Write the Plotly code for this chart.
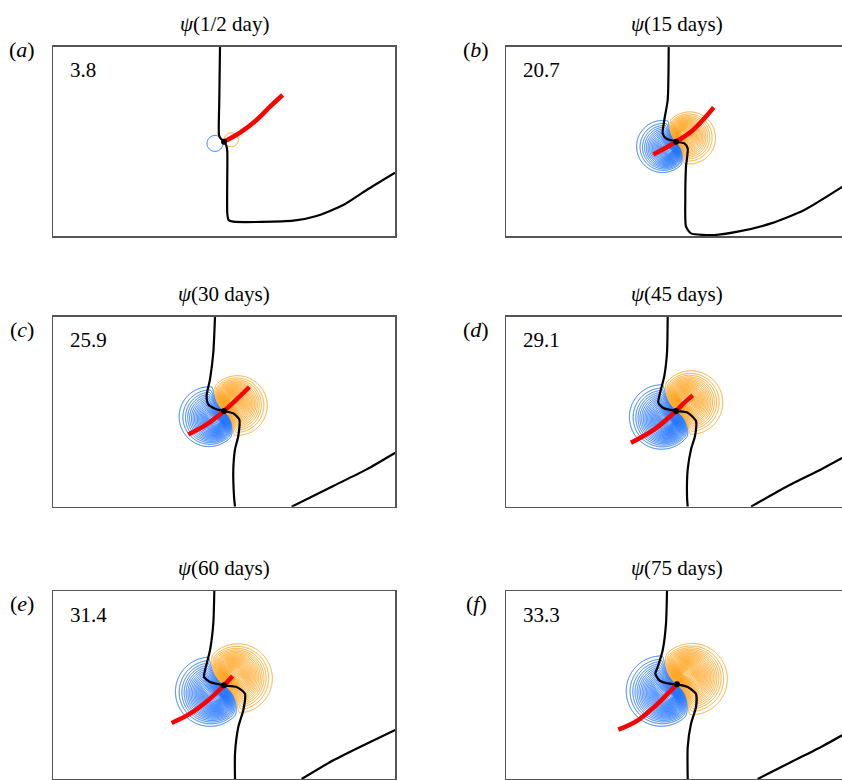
import numpy as np
import plotly.graph_objects as go

# ---------------- data ----------------
panel_letters = ["a", "b", "c", "d", "e", "f"]
title_times = ["1/2 day", "15 days", "30 days", "45 days", "60 days", "75 days"]
corner_values = ["3.8", "20.7", "25.9", "29.1", "31.4", "33.3"]

# vortex centre per panel (box pixels, y downward)
center_x = [170.7, 170.0, 170.7, 170.0, 170.7, 171.0]
center_y = [95.0, 95.0, 94.3, 94.3, 94.3, 93.3]

# each psi lobe: outer ring centre, inner (peak) point, outer radius (relative to centre)
orange_outer = [(7.3, -2.0), (14.5, -3.3), (14.3, -5.0), (16.0, -8.3), (14.6, -6.6), (15.7, -4.8)]
orange_peak = [(7.3, -2.0), (4.5, -8.0), (5.0, -9.5), (5.0, -10.0), (5.0, -10.0), (5.0, -10.0)]
orange_radius = [8.75, 29.0, 33.0, 35.0, 38.0, 39.0]
blue_outer = [(-9.0, 1.7), (-14.5, 4.3), (-16.2, 5.2), (-15.5, 5.5), (-15.0, 6.0), (-16.8, 6.4)]
blue_peak = [(-9.0, 1.7), (-3.5, 9.0), (-3.5, 10.5), (-3.5, 11.0), (-3.5, 11.0), (-3.5, 11.0)]
blue_radius = [10.0, 29.0, 33.0, 35.5, 38.0, 38.5]
levels_per_sign = [1, 30, 34, 36, 38, 40]
first_level = [0.2, 1 / 60, 1 / 68, 1 / 72, 1 / 76, 1 / 80]
profile_power = [1.0, 1.8, 1.8, 1.8, 1.8, 1.8]

# black curve (segments) per panel
black_segments = [
    [([166.7, 166, 165.7, 167.3, 170.7, 173.3, 174, 174, 175.3, 180, 240, 263.3, 290, 313.3, 341.7],
      [0, 53.3, 88.3, 91.7, 95, 100, 105, 166.7, 173.3, 175, 174, 169.3, 158.3, 143.3, 126])],
    [([162.7, 161.7, 158.3, 156.7, 160, 170, 178.3, 181.7, 180, 179.3, 180, 185, 208.3, 231.7, 265, 298.3, 342],
      [0, 53.3, 73.3, 86.7, 91.7, 95, 96.7, 101.7, 120, 153.3, 180, 186.7, 188.3, 185, 176.7, 163.3, 136.5])],
    [([161.7, 160, 156.7, 153.3, 155, 161.7, 170.7, 180, 186, 185, 181.7, 180, 180.7, 181.7],
      [0, 36, 62.7, 79.3, 87.7, 92, 94.3, 96.7, 102.7, 119.3, 132.7, 152.7, 179.3, 190]),
     ([238.3, 280, 313.3, 342], [190, 169.3, 152.7, 136])],
    [([161.7, 161, 158.3, 153.3, 152.3, 156.7, 170, 181.7, 190, 189, 185, 181.7, 181, 181.7],
      [0, 36, 59.3, 79.3, 86, 91, 94.3, 96, 104.3, 119.3, 132.7, 152.7, 179.3, 190]),
     ([245, 281.7, 315, 342], [190, 169.3, 152.7, 138])],
    [([161, 160, 156.7, 151.7, 150.7, 156.7, 170.7, 183.3, 191.7, 190, 185, 181.7, 181.7],
      [0, 32.7, 59.3, 79.3, 86, 91, 94.3, 96, 102.7, 119.3, 136, 162.7, 188]),
     ([248.3, 280, 313.3, 342], [188, 169.3, 152.7, 139])],
    [([161, 160, 156.7, 151.7, 149.3, 153.3, 163.3, 171, 181.7, 190, 190, 185, 181.7, 181.7],
      [0, 32.7, 59.3, 76, 82.7, 89.3, 92.7, 93.3, 96, 102.7, 116, 132.7, 156, 188]),
     ([251.7, 281.7, 315, 342], [188, 172.7, 156, 141])],
]

# red curve per panel
red_x = [
    [170.7, 186.7, 203.3, 216.7, 229.3],
    [147.3, 161.7, 170, 185, 198.3, 207.7],
    [135, 153.3, 170.7, 183.3, 196],
    [125, 148.3, 170, 178.3, 186.7],
    [118.3, 136.7, 156.7, 170.7, 179.3],
    [112.3, 131.7, 151.7, 163.3, 171.7],
]
red_y = [
    [95, 86, 73.3, 60, 48.3],
    [107.7, 100, 95, 85, 71.7, 60.7],
    [117.7, 107.7, 94.3, 82.7, 70.3],
    [126, 112.7, 94.3, 86, 78.7],
    [132, 122.7, 107.7, 94.3, 85],
    [138.7, 129.3, 112.7, 101, 92.7],
]

# ---------------- layout geometry ----------------
W, H = 842, 780
col_left = [53.3, 506.0]
box_w = 341.7
row_top = [46.7, 316.7, 591.0]
row_h = [189.3, 190.0, 188.0]
label_y = [50, 329, 603.5]

BLUE = "#1f74ff"
ORANGE = "#ffa620"
FONT = "Liberation Serif"


def lobe(X, Y, outer, peak, rho, power):
    """level (0..1) of nested eccentric rings: ring u has centre peak+(outer-peak)*u, radius rho*u"""
    qx, qy = X - peak[0], Y - peak[1]
    dx, dy = outer[0] - peak[0], outer[1] - peak[1]
    a = rho ** 2 - dx ** 2 - dy ** 2
    qd = qx * dx + qy * dy
    u = (-qd + np.sqrt(qd ** 2 + a * (qx ** 2 + qy ** 2))) / a
    return (1 - np.clip(u, 0, 1)) ** power


fig = go.Figure()
annotations = []
layout_axes = {}

for i in range(6):
    row, col = divmod(i, 2)
    ax = "" if i == 0 else str(i + 1)
    xref, yref = "x" + ax, "y" + ax
    left = col_left[col]
    right = min(left + box_w, W)
    top = row_top[row]
    h = row_h[row]
    bottom = top + h
    cx, cy = center_x[i], center_y[i]

    # ---- psi field from the two lobes ----
    gx = np.arange(cx - 75, cx + 75, 0.5)
    gy = np.arange(cy - 75, cy + 75, 0.5)
    X, Y = np.meshgrid(gx - cx, gy - cy)
    p = profile_power[i]
    psi = lobe(X, Y, orange_outer[i], orange_peak[i], orange_radius[i], p) - \
        lobe(X, Y, blue_outer[i], blue_peak[i], blue_radius[i], p)
    psi = np.round(psi, 4)
    N, s0 = levels_per_sign[i], first_level[i]
    top_level = s0 * (2 * N - 1)
    fig.add_trace(go.Contour(
        x=gx, y=gy, z=psi, xaxis=xref, yaxis=yref,
        contours=dict(start=-top_level, end=top_level + 1e-9, size=2 * s0, coloring="lines"),
        colorscale=[[0, BLUE], [0.5, BLUE], [0.5, ORANGE], [1, ORANGE]],
        zmin=-1, zmax=1, autocontour=False, showscale=False,
        line=dict(width=1), hoverinfo="skip"))

    # ---- black curve ----
    for sx, sy in black_segments[i]:
        fig.add_trace(go.Scatter(x=sx, y=sy, xaxis=xref, yaxis=yref, mode="lines",
                                 line=dict(color="black", width=2.2, shape="spline", smoothing=0.6),
                                 hoverinfo="skip", showlegend=False))
    # ---- red curve ----
    fig.add_trace(go.Scatter(x=red_x[i], y=red_y[i], xaxis=xref, yaxis=yref, mode="lines",
                             line=dict(color="#ff0000", width=4.5, shape="spline"),
                             hoverinfo="skip", showlegend=False))
    fig.add_trace(go.Scatter(x=[cx], y=[cy], xaxis=xref, yaxis=yref, mode="markers",
                             marker=dict(color="black", size=6),
                             hoverinfo="skip", showlegend=False))

    xr = (right - left)
    layout_axes["xaxis" + ax] = dict(domain=[left / W, right / W], range=[0, xr], anchor=yref,
                                     showgrid=False, zeroline=False, showticklabels=False, ticks="",
                                     showline=True, linecolor="#555555", linewidth=1.5, mirror=True)
    layout_axes["yaxis" + ax] = dict(domain=[1 - bottom / H, 1 - top / H], range=[h, 0], anchor=xref,
                                     showgrid=False, zeroline=False, showticklabels=False, ticks="",
                                     showline=True, linecolor="#555555", linewidth=1.5,
                                     mirror=(col == 0))

    annotations.append(dict(xref="paper", yref="paper", x=(left + box_w / 2) / W, y=1 - (top - 23) / H,
                            xanchor="center", yanchor="middle", showarrow=False,
                            text="<i>ψ</i>(" + title_times[i] + ")",
                            font=dict(family=FONT, size=21, color="black")))
    annotations.append(dict(xref="paper", yref="paper", x=(22 if col == 0 else 476) / W,
                            y=1 - label_y[row] / H, xanchor="center", yanchor="middle", showarrow=False,
                            text="(<i>" + panel_letters[i] + "</i>)",
                            font=dict(family=FONT, size=22, color="black")))
    annotations.append(dict(xref="paper", yref="paper", x=(left + 15) / W, y=1 - (top + 23.5) / H,
                            xanchor="left", yanchor="middle", showarrow=False,
                            text=corner_values[i],
                            font=dict(family=FONT, size=21, color="black")))

fig.update_layout(width=W, height=H, margin=dict(l=0, r=0, t=0, b=0),
                  paper_bgcolor="white", plot_bgcolor="white", showlegend=False,
                  annotations=annotations, **layout_axes)

fig.write_html("out.html", config={"displayModeBar": False, "staticPlot": True},
               post_script="document.body.style.margin='0';document.body.style.overflow='hidden';")
